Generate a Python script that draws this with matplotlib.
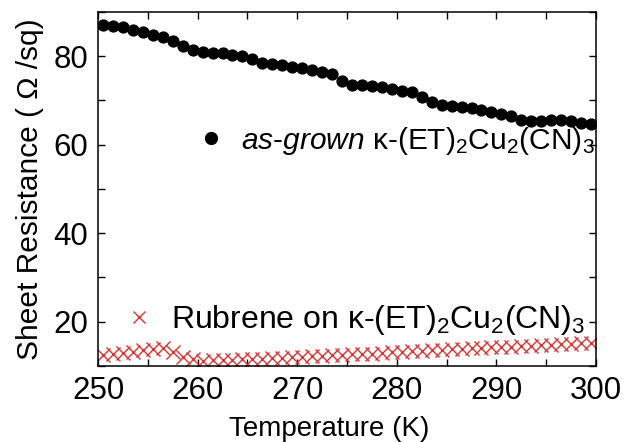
import matplotlib

matplotlib.use("Agg")
import matplotlib.pyplot as plt
from matplotlib.lines import Line2D
from matplotlib.ticker import MultipleLocator

plt.rcParams["font.family"] = ["Liberation Sans", "DejaVu Sans"]
plt.rcParams["mathtext.fontset"] = "custom"
plt.rcParams["mathtext.rm"] = "Liberation Sans"
plt.rcParams["mathtext.it"] = "Liberation Sans:italic"

# Temperature grid (K)
temperature = [
    250.5, 251.5, 252.5, 253.5, 254.5, 255.5, 256.5, 257.5, 258.5, 259.5,
    260.5, 261.5, 262.5, 263.5, 264.5, 265.5, 266.5, 267.5, 268.5, 269.5,
    270.5, 271.5, 272.5, 273.5, 274.5, 275.5, 276.5, 277.5, 278.5, 279.5,
    280.5, 281.5, 282.5, 283.5, 284.5, 285.5, 286.5, 287.5, 288.5, 289.5,
    290.5, 291.5, 292.5, 293.5, 294.5, 295.5, 296.5, 297.5, 298.5, 299.5,
]

# Sheet resistance (Ohm/sq), as-grown film
as_grown = [
    87.1, 86.8, 86.5, 85.9, 85.4, 84.9, 84.4, 83.5, 82.3, 81.5,
    81.0, 80.8, 80.7, 80.3, 80.0, 79.4, 78.4, 78.2, 77.9, 77.6,
    77.3, 76.8, 76.4, 75.9, 74.3, 73.5, 73.4, 73.2, 73.0, 72.5,
    72.1, 71.8, 70.7, 69.6, 68.9, 68.7, 68.6, 68.3, 67.9, 67.4,
    67.0, 66.4, 65.5, 65.3, 65.4, 65.5, 65.5, 65.3, 65.0, 64.6,
]

# Sheet resistance (Ohm/sq), rubrene on top
rubrene = [
    12.5, 12.7, 13.0, 13.2, 13.5, 13.8, 14.1, 13.2, 12.1, 11.5,
    11.2, 11.3, 11.4, 11.4, 11.5, 11.5, 11.6, 11.7, 11.8, 12.0,
    12.1, 12.2, 12.3, 12.4, 12.5, 12.6, 12.7, 12.8, 13.0, 13.1,
    13.2, 13.3, 13.4, 13.6, 13.7, 13.8, 13.9, 14.0, 14.1, 14.2,
    14.3, 14.4, 14.5, 14.6, 14.7, 14.8, 14.9, 15.0, 15.1, 15.2,
]

x_ticks = [250, 260, 270, 280, 290, 300]
y_ticks = [20, 40, 60, 80]

label_grown = r"$\mathit{as}$-$\mathit{grown}$ κ-(ET)$_2$Cu$_2$(CN)$_3$"
label_rubrene = r"Rubrene on κ-(ET)$_2$Cu$_2$(CN)$_3$"

red = "#e03030"

fig = plt.figure(figsize=(6.3, 4.42), dpi=100)
ax = fig.add_axes([0.1556, 0.172, 0.7905, 0.801])

ax.plot(temperature, as_grown, "o", color="black", markersize=7.8, linestyle="none")
ax.plot(temperature, rubrene, "x", color=red, markersize=9.5, markeredgewidth=1.0,
        linestyle="none")

ax.set_xlim(250, 300)
ax.set_ylim(10, 90)
ax.set_xticks(x_ticks)
ax.xaxis.set_minor_locator(MultipleLocator(5))
ax.set_yticks(y_ticks)
ax.yaxis.set_minor_locator(MultipleLocator(10))
ax.tick_params(which="both", direction="in", top=True, right=True,
               length=5, width=1.0, labelsize=22.5)
ax.tick_params(axis="x", pad=7)
ax.tick_params(axis="y", pad=7)
for s in ax.spines.values():
    s.set_linewidth(1.1)

ax.set_xlabel("Temperature (K)", fontsize=20)
ax.xaxis.set_label_coords(0.465, -0.14)
ax.set_ylabel("Sheet Resistance ( Ω /sq)", fontsize=21.5)
ax.yaxis.set_label_coords(-0.108, 0.5)

h_grown = Line2D([], [], marker="o", color="black", linestyle="none", markersize=8.5)
h_rub = Line2D([], [], marker="x", color=red, linestyle="none", markersize=8.5,
               markeredgewidth=1.0)

leg1 = ax.legend([h_grown], [label_grown], loc="center left",
                 bbox_to_anchor=(0.196, 0.636), frameon=False, fontsize=21.5,
                 borderpad=0, borderaxespad=0, handlelength=1.0,
                 handletextpad=0.52)
ax.add_artist(leg1)
ax.legend([h_rub], [label_rubrene], loc="center left",
          bbox_to_anchor=(0.05, 0.13), frameon=False, fontsize=23,
          borderpad=0, borderaxespad=0, handlelength=1.0, handletextpad=0.52)

fig.savefig("out.png", dpi=100)
